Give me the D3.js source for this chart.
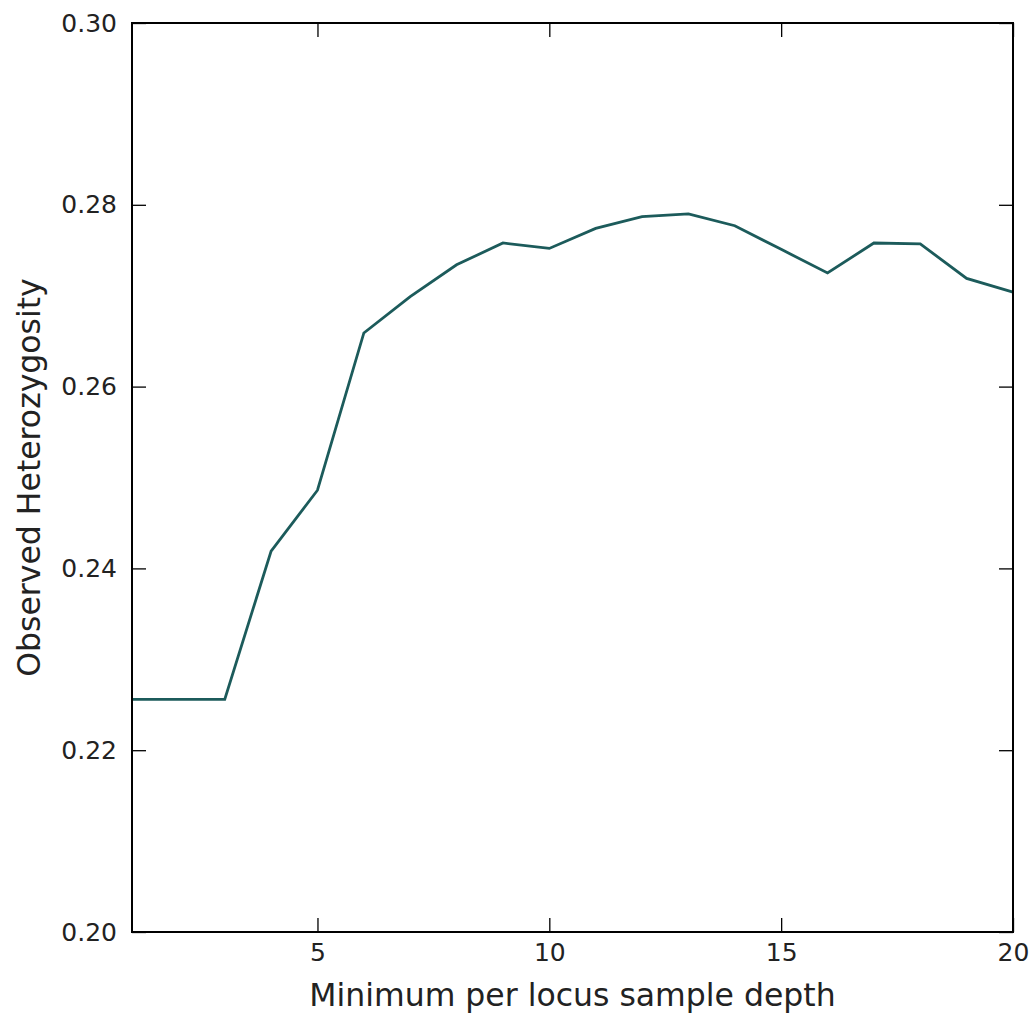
<!DOCTYPE html>
<html>
<head>
<meta charset="utf-8">
<script src="https://cdn.jsdelivr.net/npm/d3@7"></script>
<style>
  html, body { margin: 0; padding: 0; background: #fff; }
  svg { display: block; }
  text { font-family: "DejaVu Sans", sans-serif; fill: #222; }
</style>
</head>
<body>
<svg id="chart" width="1035" height="1015"></svg>
<script>
const depth = [1, 2, 3, 4, 5, 6, 7, 8, 9, 10, 11, 12, 13, 14, 15, 16, 17, 18, 19, 20];
const heterozygosity = [0.2256, 0.2256, 0.2256, 0.2419, 0.2486, 0.2659, 0.2699, 0.2734, 0.2758, 0.2752,
                        0.2774, 0.2787, 0.2790, 0.2777, 0.2751, 0.2725, 0.2758, 0.2757, 0.2719, 0.2704];
const xTicks = [5, 10, 15, 20];
const yTicks = [0.20, 0.22, 0.24, 0.26, 0.28, 0.30];
const xLabel = "Minimum per locus sample depth";
const yLabel = "Observed Heterozygosity";

const svg = d3.select("#chart");
const L = 132, R = 1013, T = 23, B = 932;

const x = d3.scaleLinear().domain([1, 20]).range([L, R]);
const y = d3.scaleLinear().domain([0.20, 0.30]).range([B, T]);

const tickLen = 14;
const tickFont = "25px";

// line
const line = d3.line().x((d, i) => x(depth[i])).y(d => y(d));
svg.append("path")
  .datum(heterozygosity)
  .attr("d", line)
  .attr("fill", "none")
  .attr("stroke", "#1c5b5b")
  .attr("stroke-width", 2.8)
  .attr("stroke-linejoin", "miter");

// axes (ticks inward)
function styleAxis(g) {
  g.select(".domain").remove();
  g.selectAll(".tick line").attr("stroke", "#000").attr("stroke-width", 1.3);
  g.selectAll(".tick text").style("font-size", tickFont).attr("fill", "#222");
}

svg.append("g").attr("transform", `translate(0,${B})`)
  .call(d3.axisBottom(x).tickValues(xTicks).tickFormat(d3.format("d")).tickSizeInner(-tickLen).tickSizeOuter(0).tickPadding(10))
  .call(styleAxis)
  .call(g => g.selectAll(".tick text").attr("dy", "0.71em").attr("y", 11));

svg.append("g").attr("transform", `translate(0,${T})`)
  .call(d3.axisTop(x).tickValues(xTicks).tickFormat("").tickSizeInner(-tickLen).tickSizeOuter(0))
  .call(styleAxis);

svg.append("g").attr("transform", `translate(${L},0)`)
  .call(d3.axisLeft(y).tickValues(yTicks).tickFormat(d3.format(".2f")).tickSizeInner(-tickLen).tickSizeOuter(0))
  .call(styleAxis)
  .call(g => g.selectAll(".tick text").attr("x", -15));

svg.append("g").attr("transform", `translate(${R},0)`)
  .call(d3.axisRight(y).tickValues(yTicks).tickFormat("").tickSizeInner(-tickLen).tickSizeOuter(0))
  .call(styleAxis);

// frame
svg.append("rect")
  .attr("x", L).attr("y", T).attr("width", R - L).attr("height", B - T)
  .attr("fill", "none").attr("stroke", "#000").attr("stroke-width", 2);

// axis labels
svg.append("text")
  .attr("x", (L + R) / 2).attr("y", 1006)
  .attr("text-anchor", "middle")
  .style("font-size", "31.5px")
  .text(xLabel);

svg.append("text")
  .attr("transform", `translate(40,${(T + B) / 2}) rotate(-90)`)
  .attr("text-anchor", "middle")
  .style("font-size", "31.5px")
  .text(yLabel);
</script>
</body>
</html>
